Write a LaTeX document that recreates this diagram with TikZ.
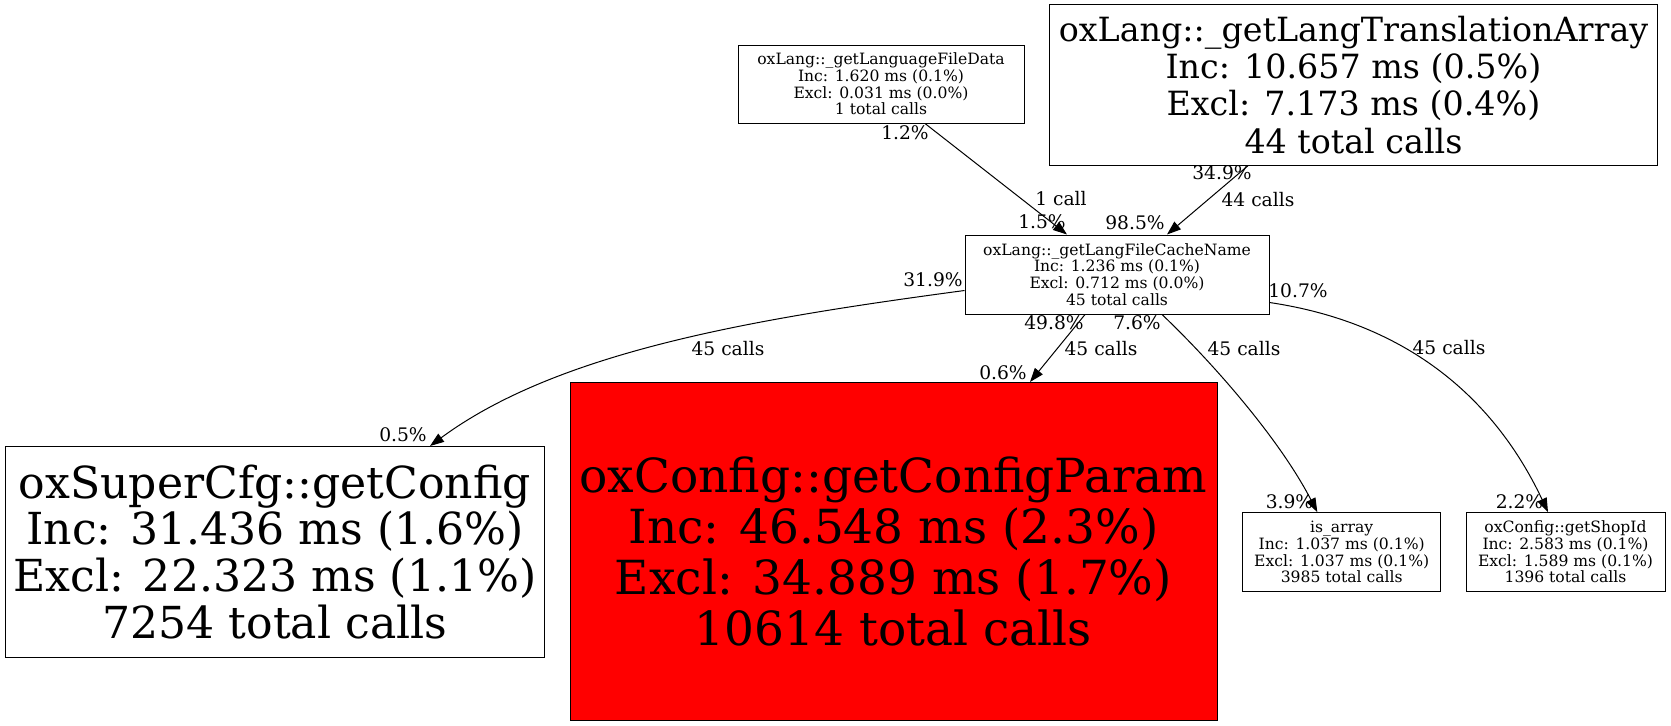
\documentclass[tikz,border=0pt]{standalone}
\usepackage{fontspec}
\setmainfont{DejaVu Serif}
\usetikzlibrary{arrows.meta,calc}

\begin{document}
\begin{tikzpicture}[x=0.75pt, y=-0.75pt, ->, >={Triangle[length=10.5pt,width=7.5pt]}, line width=0.75pt]

    \tikzstyle{func}=[draw=black, fill=white, text=black, inner sep=0pt, align=center]
    \tikzstyle{small}=[func, minimum height=59.25pt, font=\fontsize{11.7}{12.5}\selectfont]
    \tikzstyle{lbl}=[inner sep=0pt, text depth=0pt, font=\fontsize{14}{16}\selectfont]

    \useasboundingbox (0,0) rectangle (1671,725);

    \node[small, minimum width=214.5pt, minimum height=58.5pt] (datafile) at (881,84)
        {oxLang::\_getLanguageFileData\\Inc: 1.620 ms (0.1\%)\\Excl: 0.031 ms (0.0\%)\\1 total calls};
    \node[func, minimum width=455.6pt, minimum height=120.75pt, font=\fontsize{25}{28}\selectfont] (transarr) at (1353.5,84.7)
        {oxLang::\_getLangTranslationArray\\Inc: 10.657 ms (0.5\%)\\Excl: 7.173 ms (0.4\%)\\44 total calls};
    \node[small, minimum width=228pt] (cachename) at (1117,274.5)
        {oxLang::\_getLangFileCacheName\\Inc: 1.236 ms (0.1\%)\\Excl: 0.712 ms (0.0\%)\\45 total calls};
    \node[func, minimum width=404.25pt, minimum height=158.25pt, font=\fontsize{33.1}{35.2}\selectfont] (getconfig) at (275,552)
        {oxSuperCfg::getConfig\\Inc: 31.436 ms (1.6\%)\\Excl: 22.323 ms (1.1\%)\\7254 total calls};
    \node[func, fill=red, minimum width=485.25pt, minimum height=253.5pt, font=\fontsize{35.25}{38.25}\selectfont] (configparam) at (893.5,551.5)
        {oxConfig::getConfigParam\\Inc: 46.548 ms (2.3\%)\\Excl: 34.889 ms (1.7\%)\\10614 total calls};
    \node[small, minimum width=148.5pt] (isarray) at (1341.7,552.1)
        {is\_array\\Inc: 1.037 ms (0.1\%)\\Excl: 1.037 ms (0.1\%)\\3985 total calls};
    \node[small, minimum width=149.25pt] (shopid) at (1565.5,552.1)
        {oxConfig::getShopId\\Inc: 2.583 ms (0.1\%)\\Excl: 1.589 ms (0.1\%)\\1396 total calls};

    % calls into the cache name lookup
    \draw ($(datafile.south)+(44,0)$) -- ($(cachename.north)+(-50,0)$);
    \draw ($(transarr.south)+(-105.5,0)$) -- ($(cachename.north)+(50,0)$);

    % calls out of it
    \draw ($(cachename.west)+(0,16)$) .. controls (760,318) and (560,350) .. ($(getconfig.north)+(155,0)$);
    \draw ($(cachename.south)+(-32,0)$) -- ($(configparam.north)+(136.5,0)$);
    \draw ($(cachename.south)+(45,0)$) .. controls (1215,365) and (1280,440) .. ($(isarray.north)+(-24.4,0)$);
    \draw ($(cachename.east)+(0,28)$) .. controls (1419,324.7) and (1500,410) .. ($(shopid.north)+(-17.5,0)$);

    \node[lbl] (l1t) at (905,133)  {1.2\%};
    \node[lbl] (l1m) at (1061,198) {1 call};
    \node[lbl] (l1h) at (1042,222) {1.5\%};
    \node[lbl] (l2t) at (1222,173) {34.9\%};
    \node[lbl] (l2m) at (1258,199) {44 calls};
    \node[lbl] (l2h) at (1135,223) {98.5\%};
    \node[lbl] (l3t) at (933,280)  {31.9\%};
    \node[lbl] (l3m) at (728,348)  {45 calls};
    \node[lbl] (l3h) at (403,435)  {0.5\%};
    \node[lbl] (l4t) at (1054,323) {49.8\%};
    \node[lbl] (l4m) at (1101,348) {45 calls};
    \node[lbl] (l4h) at (1003,373) {0.6\%};
    \node[lbl] (l5t) at (1137,323) {7.6\%};
    \node[lbl] (l5m) at (1244,348) {45 calls};
    \node[lbl] (l5h) at (1289.5,502) {3.9\%};
    \node[lbl] (l6t) at (1298,291) {10.7\%};
    \node[lbl] (l6m) at (1449,347) {45 calls};
    \node[lbl] (l6h) at (1519.5,502) {2.2\%};
\end{tikzpicture}
\end{document}
